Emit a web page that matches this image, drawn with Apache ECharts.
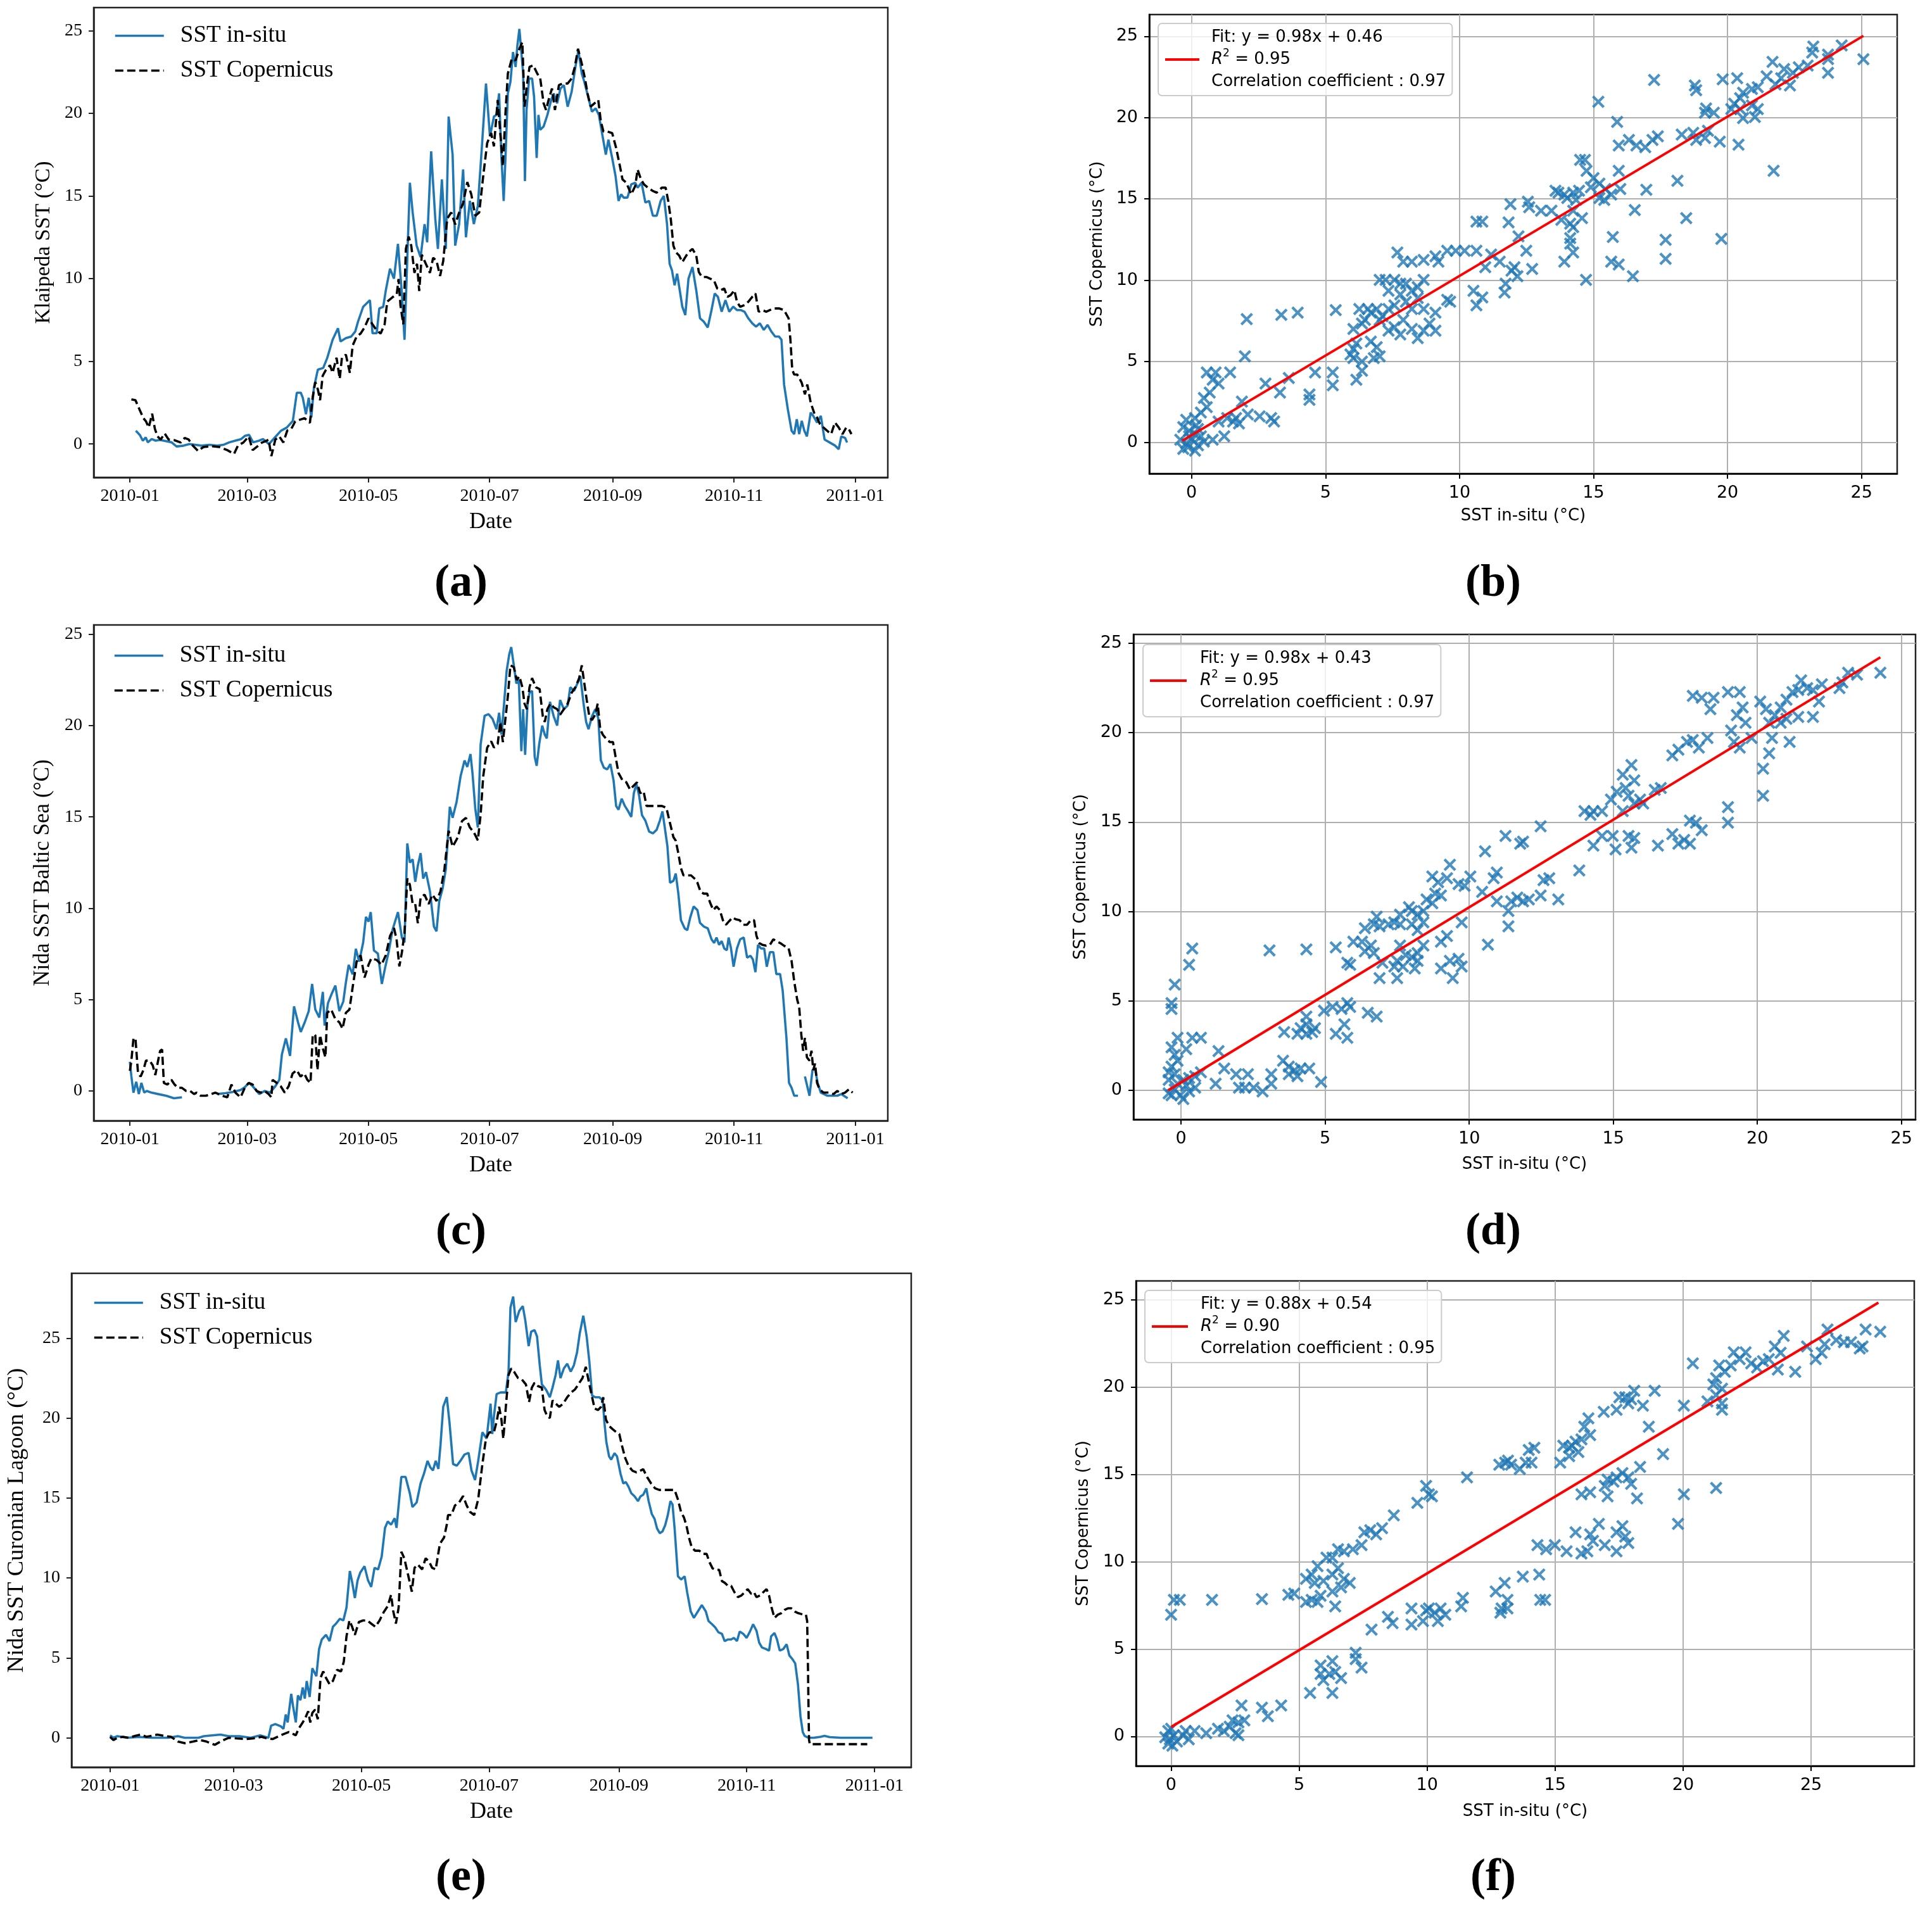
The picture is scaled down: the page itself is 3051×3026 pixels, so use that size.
<!DOCTYPE html>
<html><head><meta charset="utf-8">
<script src="https://cdn.jsdelivr.net/npm/echarts@6/dist/echarts.min.js"></script>
<style>html,body{margin:0;padding:0;background:#fff}#c{width:3051px;height:3026px}</style>
</head><body><div id="c"></div>
<script>
// ---- tick definitions ----
const MONTH_TICK_DAYS = [0, 59, 120, 181, 243, 304, 365];
const MONTH_TICK_LABELS = ['2010-01', '2010-03', '2010-05', '2010-07', '2010-09', '2010-11', '2011-01'];
const SST_TICKS = [0, 5, 10, 15, 20, 25];

// ---- (a) Klaipeda time series: [day of 2010, SST] ----
const A_INSITU = [[3,0.8],[5,0.55],[6.5,0.2],[8,0.4],[9,0.1],[11,0.3],[13,0.2],[15,0.25],[17,0.2],[19,0.15],[21,0.1],[23.5,-0.15],[27,-0.1],[30,0.0],[33,-0.05],[36,-0.1],[40,-0.05],[44,-0.1],[47,-0.05],[50,0.1],[53,0.2],[56,0.3],[58,0.5],[60,0.55],[62,0.1],[65,0.2],[67,0.3],[70,0.0],[73,0.4],[76,0.8],[79,1.0],[82,1.4],[84,3.1],[86,3.1],[87,2.8],[88.6,1.8],[90,2.8],[91.3,1.6],[92.6,3.4],[94.6,4.5],[97.3,4.6],[99.3,5.2],[102,6.3],[104.7,7.0],[106,6.2],[108.7,6.4],[111.4,6.5],[113.4,6.8],[114.8,7.4],[117.4,8.3],[120.8,8.7],[122.1,6.7],[124.2,6.7],[125.5,8.2],[127.5,8.3],[128.8,9.3],[130.9,10.6],[132.9,10.0],[134.9,12.1],[136.9,9.1],[138.2,6.3],[140.9,15.8],[142.3,14.0],[144.3,12.0],[146.3,11.3],[148.3,13.3],[149.6,12.2],[151.6,17.7],[153.7,13.6],[155,11.8],[157,16.0],[159,11.8],[160.4,19.8],[162.4,17.5],[163.7,12.0],[165.7,13.3],[167.7,16.6],[169.1,12.5],[171.1,14.7],[173.1,13.3],[175.1,14.4],[177.1,17.9],[179.2,21.8],[181.2,18.6],[183.2,19.8],[184.5,19.9],[185.8,21.2],[187,17.3],[188.1,14.7],[189,17.3],[190.2,21.2],[191.5,21.9],[192.8,23.7],[194.1,22.8],[195,24.1],[196,25.1],[197,23.7],[197.9,22.4],[198.8,15.9],[199.6,20.2],[200.9,22.1],[202.4,22.1],[203.4,21.0],[204.7,17.3],[205.6,19.9],[206.5,19.0],[208.2,19.2],[210.1,19.9],[212,20.8],[213.3,21.2],[215,20.6],[216.7,21.5],[218.4,21.7],[220.3,20.4],[222.3,21.3],[224.2,22.8],[225.7,23.8],[227.4,22.4],[228.7,21.9],[230.6,21.0],[232.5,20.1],[234.4,20.3],[236,19.9],[237.6,18.8],[239.5,17.5],[240.8,18.4],[242.7,17.3],[244.4,16.2],[245.9,14.7],[247.2,15.1],[248.5,14.9],[250.4,14.9],[252.3,15.7],[254.3,15.8],[255.5,15.5],[257.5,15.8],[259.4,14.6],[261.3,14.7],[263.2,13.8],[265.1,13.8],[267.1,14.7],[268.7,15.0],[270.3,13.3],[271.6,10.9],[272.8,10.5],[274.1,9.6],[275.4,10.3],[276.7,9.3],[278,8.3],[279.5,7.8],[281.1,10.0],[283.1,10.7],[285,9.3],[286.9,7.6],[288.8,7.4],[290.8,7.05],[292.7,8.1],[294.3,9.1],[295.9,8.9],[297.8,8.0],[299.7,8.7],[301.6,8.0],[303.6,8.3],[305.5,8.1],[307.4,8.1],[309.3,8.0],[311.2,7.6],[313.2,7.3],[315.1,7.1],[317,7.3],[319,6.9],[320.9,7.2],[322.8,6.8],[324.7,6.5],[326.6,6.5],[327.9,6.3],[329.2,3.6],[331.1,2.1],[333,0.8],[334.3,0.6],[335.6,1.5],[336.8,0.6],[338.1,1.4],[339.4,0.8],[340.7,0.46],[342.6,1.9],[343.9,1.7],[345.8,1.3],[347.7,1.7],[349.6,0.27],[352.2,0.09],[354.8,-0.09],[356.7,-0.31],[358,0.46],[359.9,0.37],[360.9,0.09]];
const A_COPERNICUS = [[0.75,2.7],[2.8,2.65],[4.8,2.1],[6.8,1.56],[8.1,1.37],[9.5,1.0],[11.2,1.83],[12.6,0.91],[13.9,0.46],[15.5,0.27],[17.5,0.64],[19.5,0.27],[22.2,0.24],[25.6,0.09],[27.6,0.37],[29.6,0.27],[31.6,-0.09],[34.3,-0.42],[37,-0.18],[41,-0.13],[45,-0.18],[49,-0.37],[52.4,-0.6],[54.4,-0.09],[57.1,0.09],[59.8,0.46],[61.8,-0.37],[63.8,-0.18],[66.5,0.09],[68.5,0.18],[69.8,0.27],[71.2,-0.73],[73.2,0.27],[75.2,0.46],[77.2,0.09],[79.2,0.82],[81.2,0.91],[83.2,1.37],[85.3,1.46],[87.9,1.56],[90.6,1.28],[92,2.84],[93.3,3.75],[94.6,3.3],[95.7,2.65],[97,4.12],[98.7,4.49],[100.7,4.76],[102,4.3],[104,5.22],[105.6,3.94],[106.7,5.22],[108.7,5.4],[110.7,4.3],[112.1,5.95],[114.1,6.5],[116.1,6.68],[118.1,7.05],[120.1,7.6],[122.1,7.24],[124.2,6.87],[126.2,6.68],[128.2,7.24],[129.5,8.61],[132.2,8.88],[134.3,9.06],[135.2,9.98],[136.2,8.33],[137.6,7.24],[138.9,11.81],[140.3,12.54],[141.6,11.99],[143.2,10.35],[144.5,10.9],[145.6,9.25],[146.9,11.45],[148.9,10.9],[151,10.35],[152.6,11.26],[154.3,11.08],[156.1,10.16],[157.7,11.08],[159.7,13.64],[161.7,14.0],[163.7,13.28],[165.7,14.0],[167.7,14.56],[169.8,15.84],[171.8,15.1],[173.8,13.8],[175.8,14.0],[177.8,16.2],[179.8,18.2],[181.8,18.8],[183.2,18.0],[185.1,20.8],[186.4,18.8],[187.7,16.8],[189,20.0],[190.2,22.4],[192.2,23.3],[194.1,23.2],[196,23.9],[197.5,24.3],[198.6,20.4],[199.8,21.7],[201.1,22.8],[203,22.9],[205,22.4],[206.5,22.1],[208.2,20.6],[209.4,20.2],[210.7,20.8],[212.4,21.5],[213.9,20.2],[215.9,21.7],[217.8,21.8],[220.3,21.8],[222.3,22.1],[223.9,22.8],[225.5,23.9],[227.4,23.0],[229,22.1],[230.3,21.2],[231.9,20.4],[233.8,20.6],[235.7,20.8],[237,19.5],[238.3,18.9],[240.2,18.9],[242.7,18.8],[244.7,17.9],[246.6,16.8],[247.9,16.0],[249.8,15.8],[252.3,15.1],[254.3,15.6],[255.5,16.6],[257.2,16.0],[258.7,15.7],[260.7,15.5],[263.2,15.3],[265.1,15.2],[267.7,15.5],[269.6,15.5],[270.9,14.7],[272.2,13.6],[273.5,12.0],[274.7,11.6],[276.4,11.4],[278,11.0],[279.5,11.3],[281.1,11.6],[283.1,11.8],[285,11.4],[286.3,10.4],[287.9,10.1],[290.1,10.1],[292,10.0],[293.9,9.9],[295.6,9.4],[297.2,9.3],[299.1,9.4],[300.7,8.9],[302.3,9.0],[304.2,9.3],[305.5,8.6],[307.1,8.3],[309.3,8.4],[311.2,8.6],[313.2,8.9],[314.8,9.1],[316.4,8.0],[318.3,8.1],[320.2,8.0],[322.1,8.1],[324.1,8.2],[326.6,8.2],[329.2,8.1],[331.5,7.6],[332.4,6.3],[333.3,4.5],[334.3,4.2],[335.8,4.2],[336.8,4.0],[338.1,3.7],[339.7,3.0],[340.9,3.6],[342.6,2.5],[344.3,1.9],[345.8,1.6],[347.3,1.2],[349,1.0],[350.9,0.8],[352.9,0.6],[354.8,1.3],[356.7,1.0],[358.6,0.6],[360.5,1.0],[361.8,0.9],[363.1,0.6]];

// ---- (c) Nida Baltic Sea time series ----
const C_INSITU = [[0,1.6],[0.75,0.8],[1.8,-0.1],[3.2,0.5],[4.5,-0.17],[5.8,0.44],[7.2,-0.09],[8.5,0],[10.8,-0.09],[14.2,-0.17],[18.2,-0.26],[22.2,-0.4],[26.2,-0.35],[30,'-'],[44,-0.17],[48,-0.12],[52,-0.05],[55.7,0.05],[57.8,0.2],[59.8,0.44],[61.8,0.26],[65.1,-0.17],[67.8,0],[70.5,-0.09],[73.2,0.26],[75.2,0.61],[76.5,2.0],[78.5,2.88],[80.6,1.92],[82.6,4.63],[84.6,3.76],[86,3.23],[88,3.76],[90,4.37],[91.7,5.86],[93.3,4.46],[95.3,4.02],[97.1,5.42],[98,3.58],[99.7,4.81],[101.6,5.33],[103.4,5.77],[105.4,4.37],[107.4,4.9],[108.7,5.94],[110.1,6.9],[112.1,6.38],[113.7,7.78],[115.4,7.08],[117.4,8.13],[118.8,9.53],[120.1,9.27],[121.2,9.79],[122.8,7.69],[124.8,7.52],[126.8,5.86],[128.4,6.73],[130.2,7.6],[132.2,8.83],[134.9,9.79],[136.9,8.39],[138.2,8.13],[139.6,13.55],[140.9,12.5],[142.3,12.68],[143.6,11.45],[144.9,12.33],[146.3,13.02],[147.6,11.63],[149,11.98],[151,10.93],[153,9.0],[154.3,8.74],[155.7,10.4],[157.4,11.1],[159,12.15],[161,15.56],[162.4,14.95],[164.4,15.82],[166.4,17.22],[168.4,18.09],[169.8,17.74],[171.4,18.44],[172.4,17.4],[173.8,15.47],[175.1,14.42],[176.5,18.97],[178.5,20.54],[180.5,20.63],[182.5,20.37],[184.5,19.8],[185.8,20.7],[187,19.5],[188.3,21.2],[189.6,23.0],[190.9,23.9],[191.9,24.3],[193.2,23.3],[194.5,22.3],[195.7,22.5],[197,18.6],[197.9,20.9],[198.9,18.4],[200.1,21.2],[201.1,21.8],[202.4,21.9],[203.7,18.3],[204.7,17.8],[206,19.0],[207.5,20.0],[208.8,19.5],[209.8,19.3],[211.4,21.3],[213.3,20.5],[215,20.0],[216.5,21.4],[218.4,20.9],[220.3,21.1],[221.6,22.1],[223.5,21.9],[225.2,22.3],[226.7,22.7],[228.3,21.2],[229.6,20.2],[230.8,19.8],[232.5,20.5],[234.2,20.9],[235.7,20.4],[237,18.1],[238.5,17.7],[240.2,17.6],[241.8,17.9],[243.4,17.0],[244.7,15.6],[245.9,15.4],[247.5,16.0],[249.1,15.6],[250.8,15.3],[252.3,15.0],[253.6,16.3],[254.9,16.8],[256.2,16.2],[257.7,15.1],[259.4,14.8],[261.3,14.2],[263.2,14.1],[265.1,14.3],[266.7,14.8],[268,15.3],[269.2,14.4],[270.5,13.4],[271.8,11.4],[273.5,11.5],[274.7,11.9],[276,10.8],[277.3,9.35],[279.2,8.9],[280.5,8.8],[282,9.5],[283.7,10.1],[285.6,9.9],[286.9,9.2],[288.8,9.0],[290.8,8.9],[292.7,8.3],[294,8.1],[295.2,8.4],[296.5,8.0],[297.8,8.2],[299.1,7.8],[300.4,7.7],[301.3,8.4],[302.5,7.8],[303.8,6.8],[305.5,7.8],[307.1,8.3],[308.9,8.4],[310.6,7.3],[312.3,7.4],[313.5,7.2],[314.8,6.5],[316.1,8.0],[317.6,7.8],[319.2,7.8],[320.5,6.8],[322.1,7.6],[323.8,7.6],[325.3,6.4],[327.2,6.4],[328.5,5.5],[330.4,2.9],[331.7,0.44],[333,0.17],[334.3,-0.26],[336.2,-0.26],[338,'-'],[339.7,0.79],[342,-0.26],[343.5,1.14],[344.8,1.22],[346.1,0.44],[347.7,-0.09],[350.9,-0.26],[356,-0.26],[358,-0.17],[361.2,-0.4]];
const C_COPERNICUS = [[0,1.1],[0.75,1.66],[1.8,2.88],[2.8,2.88],[4.1,0.96],[5.4,0.79],[6.8,1.14],[8.1,1.66],[9.9,1.66],[11.5,1.4],[12.8,0.87],[14.2,1.66],[15.2,2.19],[16.2,2.27],[17.1,0.44],[18.9,0.35],[20.9,0.61],[22.5,0.35],[24.2,0.17],[26.2,0.17],[28.3,0],[30.3,0],[32.3,-0.17],[33.6,-0.09],[35.6,-0.26],[38.3,-0.26],[41,-0.17],[43,-0.09],[46.4,-0.26],[49,-0.35],[51.1,0.35],[53.1,-0.09],[55.7,-0.35],[57.8,0.17],[59.8,0.44],[61.8,0.35],[63.8,0],[65.8,-0.09],[67.8,0],[69.8,-0.17],[71.2,-0.35],[71.8,0.61],[73.9,0.44],[75.9,0.26],[77.9,-0.09],[79.9,0.26],[81.9,0.96],[83.9,1.14],[85.9,0.79],[87.7,0.96],[89.3,0.61],[90.9,0.44],[92,3.06],[93.3,3.06],[94.4,1.14],[95.7,3.06],[97,2.36],[98.4,1.84],[99.3,4.28],[101.3,4.46],[103.4,3.93],[105.4,3.76],[107,3.41],[108.7,4.28],[110.5,4.46],[112.1,5.68],[114.1,7.08],[116.1,7.43],[118.1,6.21],[120.1,6.91],[121.5,7.26],[124.2,7.17],[126.6,6.91],[128.8,7.43],[130.9,8.48],[132.9,8.92],[134.2,8.3],[135.6,6.82],[136.9,7.6],[138.2,8.65],[139.6,11.63],[140.9,11.28],[142.3,10.23],[143.6,10.23],[144.9,9.18],[146.3,10.58],[148.3,10.75],[150.3,10.23],[152.3,10.75],[154.3,10.4],[156.3,10.93],[158.3,12.15],[160.4,14.25],[162.4,13.37],[165.1,13.9],[167.1,14.77],[169.1,14.95],[171.1,14.42],[173.1,14.16],[175.1,13.72],[176.5,15.12],[177.8,17.22],[179.8,18.79],[181.8,19.14],[183.2,18.8],[185.1,19.0],[186.4,20.2],[187.7,19.1],[189,20.4],[190.2,21.6],[191.5,23.3],[193.2,23.2],[194.7,22.5],[196,22.7],[197.5,22.1],[198.6,21.2],[199.8,20.9],[201.1,22.1],[202.4,22.6],[204.3,22.1],[206.2,22.0],[207.8,20.5],[208.8,20.2],[210.1,20.9],[211.6,21.2],[213.3,21.0],[215,20.9],[216.5,20.6],[218.4,20.9],[220.3,21.2],[222.3,21.8],[224.2,22.1],[226.1,22.6],[227.4,23.3],[228.7,22.3],[229.9,21.4],[231.2,20.5],[232.5,20.3],[234.2,20.6],[235.4,21.2],[236.7,19.8],[238,19.5],[239.5,19.3],[241.5,19.1],[243.1,19.1],[244.4,18.3],[245.9,17.4],[247.9,17.0],[249.8,16.9],[251.7,16.5],[253.4,16.7],[255.2,16.9],[256.8,16.3],[258.5,16.4],[260,15.6],[261.9,15.6],[263.9,15.6],[265.8,15.6],[267.7,15.6],[270,15.5],[271.5,14.8],[273.5,13.9],[274.7,13.7],[276,13.0],[277.3,12.2],[278.6,11.8],[280.5,11.8],[282.4,11.8],[284.4,11.6],[285.6,11.4],[287.2,10.9],[288.8,10.8],[290.5,10.8],[292,10.3],[293.6,9.9],[295.2,10.1],[296.9,9.9],[298.4,9.35],[300,9.1],[301.6,9.3],[303.3,9.5],[304.8,9.4],[306.8,9.35],[308.7,9.1],[310.6,9.1],[312.5,9.35],[314.1,9.35],[315.3,8.5],[316.6,8.1],[318.3,8.0],[320.2,7.95],[322.1,8.0],[323.8,8.3],[325.3,8.2],[327.2,8.1],[329.2,7.95],[331.5,7.8],[333,7.1],[334.3,6.0],[335.8,5.0],[336.8,4.6],[337.9,3.06],[338.8,2.2],[339.7,2.9],[340.7,1.84],[342,1.66],[343,2.2],[343.9,1.14],[344.8,1.5],[345.8,0.44],[347.1,0.09],[349,-0.09],[351.6,-0.09],[354.1,-0.17],[356,0],[358,-0.17],[359.9,-0.09],[361.8,0.09],[363.7,-0.09]];

// ---- (e) Nida Curonian Lagoon time series ----
const E_INSITU = [[0,0.15],[1.6,0],[3.5,0.1],[8,0],[14,0.05],[20,0],[27.8,0],[32.4,0.1],[35.6,0],[42.2,0],[44.8,0.1],[48.7,0.15],[52.7,0.2],[56.6,0.1],[61.8,0.1],[67.1,0],[71.7,0.15],[75.6,0],[76.9,0.76],[78.9,0.86],[81.5,0.72],[82.8,0.56],[83.9,1.46],[84.8,0.96],[86.5,2.75],[87.4,1.96],[88.7,0.96],[89.7,2.65],[90.9,2.35],[92,3.15],[93,2.45],[93.9,3.55],[95.3,2.55],[96.6,4.35],[98.5,3.85],[99.8,5.55],[101.1,6.15],[103.1,6.44],[104.8,6.05],[106.4,6.94],[107.9,7.14],[109.7,7.44],[111.4,7.34],[112.9,8.14],[114.5,10.43],[115.6,9.74],[116.9,8.74],[118.2,9.84],[119.5,10.34],[121.5,10.73],[123.2,9.84],[124.7,9.44],[126.3,10.63],[128,10.53],[129.7,11.33],[131.3,13.13],[132.6,13.53],[134.2,13.33],[135.9,13.73],[136.8,13.13],[137.8,14.53],[139.1,16.32],[141.1,16.32],[143.1,15.32],[144.4,14.43],[146.4,14.72],[148.3,15.92],[149.9,16.52],[151.6,17.32],[152.9,16.92],[154.2,16.72],[155.5,17.32],[156.8,16.82],[157.8,18.32],[159.1,20.71],[160.8,21.31],[162.1,19.71],[163.8,17.12],[165.6,17.02],[167.3,17.32],[169.3,17.72],[171.2,17.82],[172.6,16.72],[174.3,16.12],[175.8,17.32],[177.8,19.11],[179.8,18.71],[181.7,20.9],[182.5,19.0],[183.3,20.1],[184.6,21.5],[186.5,21.6],[189,21.6],[190.3,22.9],[191.2,26.9],[192.5,27.6],[193.7,26.0],[195.4,26.7],[197.1,27.0],[198.3,26.1],[199.9,24.5],[201.1,25.4],[202.7,25.5],[203.9,25.1],[205.2,23.3],[206.2,22.1],[207.5,21.9],[208.5,21.7],[210,21.3],[211.3,21.9],[212.8,22.7],[213.9,23.6],[215.1,22.5],[216.7,23.1],[218.3,23.4],[220,22.9],[221.5,23.3],[223,24.1],[224.3,25.3],[226,26.4],[227.6,25.1],[228.9,23.5],[230.2,21.4],[231.7,21.3],[233.6,21.3],[235.3,21.1],[236.1,19.7],[237,18.5],[238.3,17.6],[239.3,17.4],[240.9,17.8],[242.1,17.6],[243.8,16.5],[245.1,15.9],[246.3,16.0],[247.6,15.7],[248.9,15.3],[250.5,15.1],[252.1,14.8],[253.3,15.1],[254.6,15.2],[256.1,15.6],[257.2,14.8],[258.7,14.0],[260,13.7],[261.2,13.1],[262.5,12.8],[263.8,12.9],[265.1,13.3],[266.3,13.9],[267.6,14.8],[268.6,14.6],[269.6,13.1],[271.2,10.1],[272.7,9.9],[274.4,10.1],[275.6,9.1],[277.3,7.9],[278.8,7.5],[280.7,7.9],[282.6,8.3],[284.5,7.9],[285.8,7.3],[287.5,7.1],[289,6.9],[290.5,6.6],[292.2,6.5],[293.5,6.05],[295.1,6.15],[296.6,6.15],[297.9,6.25],[299.4,6.05],[300.7,6.65],[302.4,6.5],[304,6.25],[305.6,6.65],[307.1,7.1],[308.7,6.7],[310,5.95],[311.3,5.65],[313.2,5.55],[314.7,5.45],[315.7,6.35],[317.3,6.55],[318.5,6.15],[319.8,5.45],[321.5,5.55],[323.1,5.85],[324.4,5.15],[325.7,4.95],[327.2,4.65],[328.5,3.35],[329.7,1.36],[330.8,0.36],[331.7,0.12],[333.6,0],[336.1,0],[339.3,0.06],[341.2,0.12],[343.7,0.04],[348.9,0],[356.5,0],[364.1,0]];
const E_COPERNICUS = [[0,0.05],[1.6,-0.14],[3.5,0],[6.2,0.06],[8.8,0],[12,0.12],[14.7,0.2],[17.3,0.06],[19.9,0.12],[22.5,0.2],[25.8,0.12],[29.1,0.06],[32.4,-0.24],[35.6,-0.34],[39.6,-0.24],[42.8,-0.14],[46.1,-0.24],[50,-0.44],[53.3,-0.2],[56.6,0],[60.5,-0.04],[64.5,-0.08],[68.4,-0.04],[72.3,0.06],[74.9,-0.04],[77.6,-0.08],[81.5,0.16],[85.4,0.36],[88.7,0.16],[90,0.56],[92,0.96],[93.3,1.26],[94.6,1.66],[95.6,0.96],[96.6,1.56],[97.9,1.76],[99.2,1.16],[100.5,3.75],[101.8,4.15],[103.1,3.75],[104.8,3.35],[106.4,3.55],[108.4,4.25],[110.3,4.15],[111.6,4.75],[112.9,6.34],[114.3,7.34],[115.6,6.94],[116.9,6.44],[118.8,7.24],[120.8,7.34],[122.8,7.34],[124.7,7.14],[126.7,6.94],[128.7,7.34],[130.6,7.84],[132.6,8.24],[134.2,8.94],[135.2,7.94],[136.5,7.14],[137.8,8.14],[139.1,11.63],[140.5,11.23],[142.4,10.14],[144.1,9.14],[145.4,10.63],[147,10.83],[149,10.53],[150.7,11.23],[152.3,11.03],[153.8,10.63],[155.5,10.53],[157.5,12.13],[159.5,12.53],[160.8,13.33],[161.4,13.93],[163,13.93],[164.7,14.53],[166.7,14.72],[168.6,15.12],[170.3,14.53],[171.9,14.13],[173.9,13.93],[175.8,14.92],[177.8,17.12],[179.5,18.71],[181.1,19.11],[183.3,19.1],[184.8,19.9],[185.8,20.7],[186.9,19.9],[187.8,18.7],[189,20.7],[190.3,22.7],[191.6,23.1],[192.9,22.9],[194.8,22.5],[196.7,22.4],[198.6,22.1],[200.1,21.0],[201.4,21.9],[202.7,22.2],[204.3,22.0],[206.2,21.9],[207.5,20.5],[208.8,20.1],[210,20.0],[211.3,21.1],[212.8,20.9],[214.5,20.7],[216.4,20.9],[218.3,21.3],[220.2,21.6],[222.1,21.8],[224.1,22.2],[225.6,22.5],[227.2,23.2],[228.9,22.1],[230.2,21.3],[231.4,20.6],[233,20.5],[234.5,20.7],[235.5,21.3],[236.8,19.9],[238.3,19.5],[240,19.3],[241.9,19.1],[243.2,19.0],[244.4,18.3],[246,17.5],[247.6,17.0],[249.5,16.7],[251.4,16.6],[253.1,16.7],[254.6,16.8],[256.5,16.3],[258.4,15.9],[260.3,15.6],[262.3,15.5],[264.2,15.5],[266.1,15.5],[268,15.5],[269.6,15.5],[271.2,14.9],[272.7,14.1],[274,13.8],[275.2,13.3],[276.5,12.5],[277.8,11.9],[279.4,11.7],[281.4,11.7],[283.3,11.5],[284.9,11.5],[286.2,11.0],[287.7,10.6],[289.3,10.5],[290.9,10.5],[292.2,9.8],[293.5,9.7],[295.1,9.5],[296.6,9.5],[298.2,9.1],[299.8,8.8],[301.5,8.9],[303,9.1],[304.5,9.3],[306.2,9.0],[307.5,9.1],[308.7,8.8],[310.4,8.9],[311.9,9.1],[313.5,9.3],[314.7,8.9],[316,8.1],[317.3,7.5],[318.9,7.7],[320.6,7.8],[322.1,8.0],[323.7,8.1],[325.3,8.1],[327,7.9],[328.5,7.8],[331.1,7.7],[332.3,7.7],[332.9,7.3],[333.3,4.35],[333.6,1.36],[333.8,-0.14],[334.2,-0.4],[338.7,-0.4],[348.9,-0.4],[361.6,-0.4]];

// ---- (b) scatter: [in-situ, Copernicus] ----
const B_POINTS = [[23.2,24.37],[23.16,24.0],[23.75,23.88],[23.75,23.6],[23.75,22.76],[24.26,24.44],[25.07,23.59],[22.99,23.2],[22.66,23.1],[22.44,22.76],[22.11,22.99],[21.68,23.43],[22.0,22.43],[22.33,21.98],[21.79,22.05],[21.46,22.54],[21.13,21.87],[20.91,21.76],[20.58,21.53],[20.47,21.2],[20.25,20.86],[20.14,20.53],[20.47,20.53],[20.91,20.75],[21.13,20.53],[20.58,19.97],[21.02,20.04],[20.36,22.43],[19.82,22.36],[19.2,20.57],[19.16,20.3],[19.49,20.3],[18.78,21.98],[18.83,21.69],[17.26,22.32],[18.72,19.07],[18.29,18.96],[18.83,18.63],[19.16,18.74],[19.27,19.19],[19.71,18.52],[20.41,18.34],[17.4,18.85],[17.2,18.63],[16.93,18.18],[16.32,18.63],[15.94,18.29],[15.88,19.74],[16.6,18.29],[15.18,20.97],[15.94,16.73],[18.13,16.12],[21.72,16.73],[16.97,15.56],[16.54,14.31],[18.46,13.82],[15.72,12.66],[17.69,12.48],[17.69,11.31],[19.77,12.54],[15.66,11.14],[15.94,10.96],[16.47,10.24],[14.72,10.02],[14.5,17.4],[14.68,17.4],[14.74,16.73],[15.0,16.28],[15.22,15.94],[14.9,15.72],[14.46,15.5],[15.44,15.61],[15.66,15.27],[15.22,15.05],[15.4,14.94],[16.0,15.61],[13.58,15.5],[13.69,15.38],[13.91,15.27],[14.24,15.38],[14.02,15.05],[14.35,14.94],[14.24,14.27],[14.57,13.82],[13.8,13.71],[14.13,13.48],[14.24,13.26],[14.13,12.59],[14.13,12.25],[14.24,11.7],[13.91,11.14],[13.43,14.27],[13.04,14.27],[12.6,14.49],[12.55,14.83],[11.9,14.67],[11.83,13.55],[12.2,12.7],[12.49,11.81],[12.71,10.69],[12.05,10.8],[11.94,10.58],[12.16,10.24],[11.72,9.79],[11.68,9.24],[11.5,11.14],[11.18,11.58],[10.96,10.8],[10.85,8.94],[10.63,8.45],[10.52,9.35],[10.85,13.6],[10.63,13.6],[10.63,11.81],[10.19,11.81],[9.86,11.81],[9.54,11.81],[9.1,11.47],[9.21,11.14],[8.66,11.25],[8.22,11.14],[7.9,11.14],[7.68,11.7],[9.54,8.79],[9.65,8.68],[9.1,8.0],[8.66,10.02],[8.44,9.57],[8.22,9.35],[8.0,9.79],[7.79,9.79],[7.57,10.02],[7.24,10.02],[7.02,10.02],[7.35,9.35],[7.79,9.12],[8.0,8.68],[8.22,8.23],[8.66,8.23],[8.44,8.9],[7.57,8.45],[7.35,8.23],[6.91,8.23],[6.58,8.23],[6.26,8.23],[6.69,8.0],[7.13,7.78],[7.02,7.56],[6.47,7.56],[6.36,7.33],[6.04,7.0],[7.35,6.89],[7.79,6.66],[7.57,7.11],[7.9,7.56],[8.22,7.0],[8.44,6.44],[8.66,6.89],[8.88,7.33],[9.1,6.89],[6.15,6.1],[6.04,5.77],[6.69,6.22],[6.91,5.88],[7.02,5.32],[6.8,5.21],[6.36,4.99],[5.93,5.43],[6.04,5.21],[6.36,4.43],[6.15,3.87],[5.27,4.32],[4.61,4.32],[4.4,2.97],[4.4,2.64],[5.27,3.53],[3.63,3.98],[3.3,3.09],[2.76,3.64],[1.99,5.32],[2.06,7.6],[3.35,7.87],[3.96,8.0],[5.38,8.16],[2.97,1.52],[3.08,1.3],[2.54,1.63],[2.1,1.74],[1.77,1.19],[1.66,1.52],[1.88,2.53],[1.55,1.3],[1.33,1.52],[1.01,1.3],[1.22,0.4],[1.44,4.32],[0.9,4.32],[0.57,4.32],[1.01,3.64],[0.79,3.87],[0.68,3.09],[0.46,2.75],[0.57,2.19],[0.35,1.86],[0.13,1.52],[-0.2,1.41],[-0.31,0.96],[-0.09,0.74],[0.24,0.85],[0.35,0.4],[0.02,0.18],[-0.2,-0.04],[-0.31,-0.38],[0.13,-0.49],[0.24,-0.16],[0.46,0.07],[0.79,0.18],[-0.09,0.4],[0.13,0.51],[-0.13,-0.27],[-0.42,0.18],[0.17,1.07]];
const B_FIT = [[-0.35, 0.12], [25.07, 25.03]];

// ---- (d) scatter ----
const D_POINTS = [[24.27,23.35],[23.46,23.24],[23.15,23.35],[22.85,22.49],[22.95,22.81],[22.24,22.7],[22.14,21.74],[21.52,22.92],[21.42,22.38],[21.22,22.27],[21.73,22.49],[21.93,22.38],[21.01,21.84],[20.81,21.41],[20.61,20.98],[21.01,20.77],[21.42,20.88],[21.93,20.88],[20.81,20.55],[20.3,21.31],[20.1,21.74],[20.41,20.55],[20.51,19.7],[21.12,19.48],[20.41,18.84],[20.2,17.98],[20.2,16.47],[19.39,22.27],[18.98,22.27],[19.49,21.41],[19.29,20.98],[19.59,20.55],[19.8,19.7],[19.39,19.16],[19.09,20.12],[19.19,19.48],[18.98,15.83],[18.98,14.97],[17.76,22.06],[18.07,21.95],[18.48,21.95],[18.37,21.31],[17.76,19.59],[17.56,19.48],[17.97,19.16],[18.27,19.7],[17.05,18.73],[17.26,19.05],[16.65,16.9],[16.44,16.8],[15.73,17.33],[15.63,18.19],[15.33,17.65],[15.43,16.9],[15.12,16.69],[14.92,16.26],[15.53,16.47],[15.93,16.26],[16.04,16.04],[15.73,16.04],[14.0,15.61],[14.31,15.61],[14.61,15.61],[14.21,15.4],[15.33,15.61],[17.66,15.08],[17.87,14.97],[18.07,14.54],[17.05,14.33],[17.46,14.0],[17.26,13.79],[17.66,13.79],[16.55,13.68],[15.53,14.22],[15.73,14.11],[14.98,14.22],[15.08,13.47],[14.61,14.22],[14.31,13.68],[15.63,13.57],[10.55,13.36],[11.26,14.22],[11.87,13.9],[11.77,13.79],[12.48,14.76],[13.82,12.29],[12.78,11.86],[12.58,11.75],[12.48,10.89],[13.09,10.67],[11.67,10.78],[11.87,10.57],[11.46,10.57],[12.07,10.67],[11.36,10.03],[11.36,9.17],[10.96,10.57],[10.96,12.18],[10.85,11.86],[10.45,11.1],[10.04,11.96],[9.63,11.53],[9.84,11.43],[9.33,12.61],[9.23,11.86],[8.72,11.96],[8.92,11.64],[8.52,10.67],[8.72,10.46],[8.82,11.0],[9.02,10.89],[8.41,10.03],[8.01,10.03],[8.21,9.82],[7.91,10.24],[7.6,9.82],[7.4,9.39],[7.2,9.28],[7.6,9.28],[8.01,9.28],[8.41,9.39],[8.21,8.96],[6.89,9.17],[6.69,9.28],[6.38,9.06],[6.79,9.71],[9.74,9.39],[9.23,8.63],[9.02,8.31],[8.41,8.1],[8.21,7.67],[8.01,7.45],[7.8,7.56],[7.6,8.1],[7.5,7.24],[7.7,6.92],[7.4,6.92],[8.11,6.81],[8.21,7.24],[7.5,6.27],[6.89,6.27],[6.99,7.13],[6.69,7.67],[6.38,7.77],[5.98,8.31],[6.28,8.31],[6.59,8.1],[5.77,7.13],[5.87,7.02],[5.37,7.99],[9.02,6.81],[9.43,6.27],[9.33,7.24],[9.63,7.35],[9.74,6.92],[10.65,8.14],[4.35,7.88],[3.07,7.82],[0.39,7.93],[0.28,7.02],[-0.22,5.91],[-0.33,4.88],[-0.33,4.55],[4.96,4.45],[5.26,4.66],[5.57,4.55],[5.87,4.66],[5.77,4.88],[5.67,3.69],[5.37,3.16],[5.77,2.94],[6.48,4.34],[6.79,4.12],[4.35,4.12],[4.35,3.69],[4.15,3.48],[4.04,3.16],[4.35,3.16],[4.55,3.26],[4.65,3.48],[3.58,3.26],[3.54,1.65],[3.74,1.33],[3.94,1.12],[4.15,1.22],[4.45,1.22],[3.74,0.9],[4.04,0.79],[4.86,0.47],[3.13,0.9],[3.13,0.37],[2.83,-0.06],[2.52,0.15],[2.22,0.15],[2.01,0.15],[2.32,0.9],[1.91,0.9],[1.5,1.22],[1.2,0.37],[1.3,2.19],[0.69,2.94],[0.39,2.94],[0.18,2.3],[-0.12,2.94],[-0.33,2.41],[-0.22,1.98],[-0.12,1.65],[-0.33,1.33],[-0.43,1.01],[-0.22,0.9],[-0.43,0.58],[-0.12,0.37],[0.08,0.58],[0.28,0.69],[0.49,0.79],[0.69,1.01],[0.18,0.26],[-0.22,0.04],[-0.43,-0.17],[-0.02,-0.28],[0.28,-0.06],[0.49,0.15],[0.08,-0.49],[-0.33,-0.28]];
const D_FIT = [[-0.45, 0.0], [24.27, 24.21]];

// ---- (f) scatter ----
const F_POINTS = [[27.7,23.18],[27.13,23.31],[27.01,22.34],[26.9,22.22],[26.56,22.58],[26.28,22.58],[25.98,22.7],[25.64,23.31],[25.53,22.46],[25.41,21.97],[25.18,21.61],[24.84,22.34],[24.38,20.89],[23.93,22.94],[23.81,21.97],[23.58,22.34],[23.35,21.61],[23.7,21.01],[23.12,21.49],[22.89,21.13],[22.66,21.37],[22.44,22.0],[22.21,21.61],[21.98,22.0],[21.86,21.25],[21.63,20.89],[21.41,21.25],[21.29,20.52],[21.18,20.16],[21.52,19.92],[21.29,19.55],[21.52,19.07],[21.52,18.71],[20.95,19.19],[20.38,21.37],[20.03,18.95],[21.29,14.23],[20.03,13.87],[19.8,12.17],[19.22,16.17],[18.66,17.74],[18.89,19.8],[18.43,18.95],[18.09,19.8],[17.97,19.31],[17.74,19.43],[17.51,19.43],[17.86,19.07],[17.4,18.71],[16.9,18.59],[16.3,18.22],[16.14,17.74],[16.37,17.26],[16.03,17.01],[15.8,16.89],[15.66,16.65],[15.55,16.53],[15.32,16.65],[15.2,15.68],[15.55,16.05],[15.91,16.29],[14.19,16.53],[13.97,16.41],[14.08,15.68],[13.85,15.68],[13.28,15.56],[13.05,15.68],[12.82,15.56],[13.16,15.8],[13.62,15.32],[11.56,14.84],[9.96,14.35],[10.07,13.87],[9.62,13.38],[10.19,13.75],[8.7,12.66],[8.24,11.93],[8.01,11.57],[7.78,11.81],[7.55,11.69],[7.44,10.96],[7.1,10.72],[6.75,10.6],[6.52,10.72],[6.3,10.24],[6.07,10.24],[5.72,9.75],[5.49,9.27],[5.27,9.03],[5.61,8.79],[5.95,8.91],[6.3,9.27],[6.52,9.63],[6.75,9.03],[6.98,8.79],[6.64,8.54],[6.3,8.3],[5.84,8.06],[5.49,7.82],[5.27,7.7],[5.72,7.7],[4.81,8.18],[4.58,8.11],[6.41,7.45],[6.3,2.49],[5.43,2.49],[5.84,4.07],[5.84,3.58],[6.3,4.31],[6.18,3.58],[6.41,3.7],[6.64,3.34],[5.95,3.22],[7.21,4.43],[7.21,4.79],[7.44,3.94],[8.47,6.85],[8.65,6.49],[7.83,6.12],[9.39,7.33],[9.39,6.41],[9.84,6.61],[10.07,7.33],[10.3,7.09],[10.53,7.33],[10.71,6.97],[10.42,6.61],[9.96,7.21],[11.33,7.45],[11.4,7.94],[12.68,8.3],[13.03,8.79],[12.91,7.33],[12.86,7.09],[13.14,7.82],[13.14,7.33],[13.74,9.15],[14.38,9.27],[14.42,7.82],[14.61,7.82],[14.31,10.96],[14.65,10.72],[14.99,10.96],[15.45,10.6],[15.8,11.69],[16.03,10.48],[16.26,10.6],[16.48,11.2],[16.37,11.57],[16.71,12.17],[16.94,10.96],[17.4,10.6],[17.4,11.69],[17.63,12.05],[17.74,11.45],[17.86,11.08],[16.03,13.87],[16.37,13.99],[17.05,13.75],[16.94,14.35],[17.05,14.71],[17.4,14.84],[17.63,15.08],[17.86,14.84],[17.97,14.47],[18.32,15.44],[18.2,13.63],[17.28,14.59],[0.0,0.44],[-0.11,0.31],[0.11,0.07],[-0.05,-0.17],[-0.11,-0.41],[0.23,-0.29],[0.46,0.07],[0.69,-0.17],[0.57,0.31],[0.92,0.31],[1.37,0.19],[1.83,0.44],[2.06,0.31],[2.29,0.56],[2.52,0.19],[2.63,0.8],[2.86,0.92],[2.63,0.07],[2.4,0.92],[2.75,1.77],[3.55,1.65],[3.78,1.16],[4.3,1.77],[0.0,6.97],[0.11,7.82],[0.34,7.82],[1.6,7.82],[3.55,7.87],[-0.23,-0.05],[0.05,-0.53]];
const F_FIT = [[0.0, 0.54], [27.63, 24.85]];

const LEGEND_TEXT = {
  fitB: '{n|Fit: y = 0.98x + 0.46}\n{it|R}{sup|2}{n| = 0.95}\n{n|Correlation coefficient : 0.97}',
  fitD: '{n|Fit: y = 0.98x + 0.43}\n{it|R}{sup|2}{n| = 0.95}\n{n|Correlation coefficient : 0.97}',
  fitF: '{n|Fit: y = 0.88x + 0.54}\n{it|R}{sup|2}{n| = 0.90}\n{n|Correlation coefficient : 0.95}'
};

// ---- layout ----
const SERIF = 'Liberation Serif';
const SANS = 'DejaVu Sans';
const X_MARK = 'path://M0,1.5L1.5,0L5,3.5L8.5,0L10,1.5L6.5,5L10,8.5L8.5,10L5,6.5L1.5,10L0,8.5L3.5,5Z';

const grids = [
  {left:148, top:12, width:1254, height:742},
  {left:1815, top:23, width:1181, height:725},
  {left:148, top:987, width:1254, height:783},
  {left:1790, top:1002, width:1235, height:766},
  {left:113, top:2011, width:1326, height:780},
  {left:1794, top:2023, width:1229, height:766}
].map(g => Object.assign({show:true, borderColor:'#222', borderWidth:2.5, backgroundColor:'transparent', containLabel:false, outerBoundsMode:'none'}, g));

const xAxes = [], yAxes = [];
function tsAxes(gi, xr, yr, yName, yGap, yFont) {
  xAxes[gi] = {gridIndex:gi, type:'value', min:xr[0], max:xr[1],
    axisLine:{show:true, onZero:false, lineStyle:{color:'#222', width:2.5}},
    axisTick:{show:true, length:8, lineStyle:{color:'#222', width:2}, customValues:MONTH_TICK_DAYS},
    axisLabel:{customValues:MONTH_TICK_DAYS, formatter:v => MONTH_TICK_LABELS[MONTH_TICK_DAYS.indexOf(v)], margin:16, fontFamily:SERIF, fontSize:28, color:'#000'},
    splitLine:{show:false},
    name:'Date', nameLocation:'middle', nameGap:53, nameTextStyle:{fontFamily:SERIF, fontSize:36, color:'#000'}};
  yAxes[gi] = {gridIndex:gi, type:'value', min:yr[0], max:yr[1],
    axisLine:{show:true, onZero:false, lineStyle:{color:'#222', width:2.5}},
    axisTick:{show:true, length:8, lineStyle:{color:'#222', width:2}, customValues:SST_TICKS},
    axisLabel:{customValues:SST_TICKS, margin:18, fontFamily:SERIF, fontSize:28, color:'#000'},
    splitLine:{show:false},
    name:yName, nameLocation:'middle', nameRotate:90, nameGap:yGap, nameTextStyle:{fontFamily:SERIF, fontSize:yFont, color:'#000'}};
}
function scAxes(gi, xr, yr, xGap, yGap) {
  const base = (r) => ({gridIndex:gi, type:'value', min:r[0], max:r[1],
    axisLine:{show:true, onZero:false, lineStyle:{color:'#000', width:2.5}},
    axisTick:{show:true, length:8, lineStyle:{color:'#000', width:2}, customValues:SST_TICKS},
    axisLabel:{customValues:SST_TICKS, fontFamily:SANS, fontSize:27, color:'#000'},
    splitLine:{show:true, lineStyle:{color:'#b0b0b0', width:2}},
    nameLocation:'middle', nameTextStyle:{fontFamily:SANS, fontSize:26, color:'#000'}});
  xAxes[gi] = Object.assign(base(xr), {name:'SST in-situ (°C)', nameGap:xGap});
  xAxes[gi].axisLabel.margin = 17;
  yAxes[gi] = Object.assign(base(yr), {name:'SST Copernicus (°C)', nameGap:yGap, nameRotate:90});
  yAxes[gi].axisLabel.margin = 18;
}
tsAxes(0, [-18.2, 381.4], [-2.02, 26.39], 'Klaipeda SST (°C)', 62, 34);
scAxes(1, [-1.575, 26.33], [-1.9, 26.34], 54, 69);
tsAxes(2, [-18.2, 381.4], [-1.63, 25.51], 'Nida SST Baltic Sea (°C)', 63, 35);
scAxes(3, [-1.65, 25.49], [-1.63, 25.49], 58, 70);
tsAxes(4, [-18.4, 382.6], [-1.84, 29.05], 'Nida SST Curonian Lagoon (°C)', 68, 36.5);
scAxes(5, [-1.37, 29.03], [-1.69, 26.09], 59, 70);

const series = [];
function tsSeries(gi, insitu, cop) {
  series.push({type:'line', name:'SST in-situ', xAxisIndex:gi, yAxisIndex:gi, data:insitu, symbol:'none', showSymbol:false, connectNulls:false,
    lineStyle:{color:'#1f77b4', width:3.6}, itemStyle:{color:'#1f77b4'}, z:2});
  series.push({type:'line', name:'SST Copernicus', xAxisIndex:gi, yAxisIndex:gi, data:cop, symbol:'none', showSymbol:false,
    lineStyle:{color:'#000', width:3.6, type:[13,6]}, itemStyle:{color:'#000'}, z:3});
}
function scSeries(gi, pts, fit, fitName) {
  series.push({type:'scatter', name:'pts'+gi, xAxisIndex:gi, yAxisIndex:gi, data:pts, symbol:X_MARK, symbolSize:20,
    itemStyle:{color:'#1f77b4'}, z:2});
  series.push({type:'line', name:fitName, xAxisIndex:gi, yAxisIndex:gi, data:fit, symbol:'none', showSymbol:false,
    lineStyle:{color:'#ff0000', width:4}, itemStyle:{color:'#ff0000'}, z:3});
}
tsSeries(0, A_INSITU, A_COPERNICUS);
scSeries(1, B_POINTS, B_FIT, 'fitB');
tsSeries(2, C_INSITU, C_COPERNICUS);
scSeries(3, D_POINTS, D_FIT, 'fitD');
tsSeries(4, E_INSITU, E_COPERNICUS);
scSeries(5, F_POINTS, F_FIT, 'fitF');

const NO_SYMBOL = {color:'rgba(0,0,0,0)', borderWidth:0, opacity:0};
function tsLegend(left, top) {
  return {data:['SST in-situ','SST Copernicus'], left, top, orient:'vertical', padding:0, itemGap:18,
    itemWidth:77, itemHeight:4, selectedMode:false, itemStyle:NO_SYMBOL, lineStyle:{width:3.6},
    textStyle:{fontFamily:SERIF, fontSize:37, lineHeight:37, color:'#000', padding:[0,0,0,21]}};
}
const RICH = {
  n:{fontFamily:SANS, fontSize:26, lineHeight:35, color:'#000'},
  it:{fontFamily:SANS, fontSize:26, lineHeight:35, fontStyle:'italic', color:'#000'},
  sup:{fontFamily:SANS, fontSize:17, lineHeight:17, verticalAlign:'top', color:'#000'}
};
function scLegend(name, left, top, iconW, textPad) {
  return {data:[name], left, top, orient:'vertical', padding:[9,10,9,9], itemWidth:iconW, itemHeight:4,
    selectedMode:false, itemStyle:NO_SYMBOL, lineStyle:{width:4},
    backgroundColor:'rgba(255,255,255,0.8)', borderColor:'#cccccc', borderWidth:2, borderRadius:6,
    formatter:n => LEGEND_TEXT[n], textStyle:{padding:[0,0,0,textPad], rich:RICH}};
}
const legends = [
  tsLegend(180, 38), scLegend('fitB', 1829, 37, 54, 14),
  tsLegend(179, 1017), scLegend('fitD', 1805, 1018, 58, 16),
  tsLegend(147, 2039), scLegend('fitF', 1808, 2038, 57, 15)
];

const PANEL_LABELS = [['(a)',728,922],['(b)',2358,922],['(c)',728,1946],['(d)',2358,1946],['(e)',728,2966],['(f)',2358,2966]];
const graphic = PANEL_LABELS.map(([t,x,y]) => ({type:'text', x, y, silent:true,
  style:{text:t, align:'center', verticalAlign:'middle', fontFamily:SERIF, fontWeight:'bold', fontSize:72, fill:'#000'}}));

const chart = echarts.init(document.getElementById('c'), null, {renderer:'canvas', width:3051, height:3026});
chart.setOption({animation:false, backgroundColor:'#fff', textStyle:{fontFamily:SERIF},
  grid:grids, xAxis:xAxes, yAxis:yAxes, series, legend:legends, graphic});
</script></body></html>
